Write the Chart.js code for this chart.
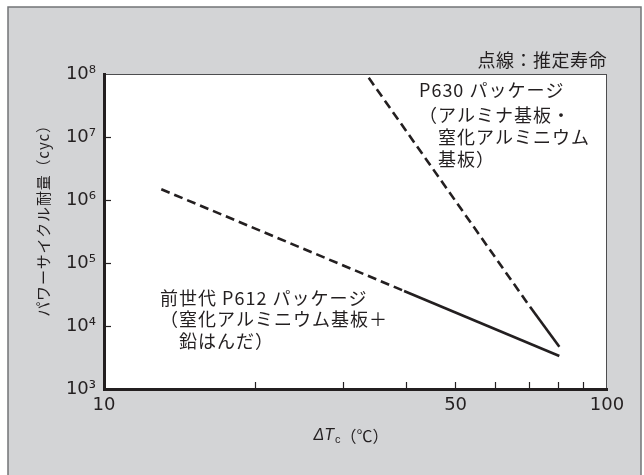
<!DOCTYPE html>
<html>
<head>
<meta charset="utf-8">
<script src="https://cdn.jsdelivr.net/npm/chart.js@4.4.1/dist/chart.umd.min.js"></script>
<style>
  html, body { margin: 0; padding: 0; background: #ffffff; }
  canvas { display: block; }
</style>
</head>
<body>
<canvas id="c" width="644" height="475"></canvas>
<script>
// ---- data ----
const p612DeltaTc = [13.0, 39.5, 80.4];
const p612Cycles  = [1.48e6, 3.6e4, 3.34e3];
const p630DeltaTc = [33.6, 70.3, 80.4];
const p630Cycles  = [8.7e7, 2.02e4, 4.69e3];
// which segments are estimated (dashed): segment i joins point i and i+1
const p612Estimated = [true, false];
const p630Estimated = [true, false];

const xTickValues = [10, 20, 30, 40, 50, 60, 70, 80, 90, 100];
const xTickLabeled = [10, 50, 100];
const yTickValues = [1e3, 1e4, 1e5, 1e6, 1e7, 1e8];
const yTickLabels = ['10³', '10⁴', '10⁵', '10⁶', '10⁷', '10⁸'];

const noteText = '点線：推定寿命';
const p630Label = ['P630 パッケージ', '（アルミナ基板・', '　窒化アルミニウム', '　基板）'];
const p612Label = ['前世代 P612 パッケージ', '（窒化アルミニウム基板＋', '　鉛はんだ）'];
const yTitle = 'パワーサイクル耐量（cyc）';
const xTitleParts = ['ΔT', 'c', '（℃）'];

// ---- drawing ----
const INK = '#231f20';
const JP = '"Noto Sans CJK JP", "Noto Sans", sans-serif';

function toPoints(xs, ys) { return xs.map((x, i) => ({ x: x, y: ys[i] })); }
function dashFor(flags) {
  return ctx => (flags[ctx.p0DataIndex] ? [9, 5] : undefined);
}
function hideEnds(ctx) {
  const n = ctx.scale && ctx.scale.ticks ? ctx.scale.ticks.length : 0;
  return (ctx.index === 0 || ctx.index === n - 1) ? 'rgba(0,0,0,0)' : INK;
}

const decor = {
  id: 'decor',
  beforeDraw(chart) {
    const c = chart.ctx, a = chart.chartArea;
    c.save();
    c.fillStyle = '#ffffff';
    c.fillRect(0, 0, chart.width, chart.height);
    c.fillStyle = '#d3d4d6';
    c.fillRect(8, 7, 633, 480);
    c.strokeStyle = '#737477';
    c.lineWidth = 1.5;
    c.strokeRect(8, 7, 633, 480);
    c.fillStyle = '#ffffff';
    c.fillRect(a.left, a.top, a.right - a.left, a.bottom - a.top);
    c.strokeStyle = '#4d4d4f';
    c.lineWidth = 1;
    c.strokeRect(a.left, a.top + 0.5, a.right - a.left - 0.5, a.bottom - a.top);
    c.restore();
  },
  afterDraw(chart) {
    const c = chart.ctx;
    c.save();
    c.fillStyle = INK;
    c.textBaseline = 'middle';
    c.font = '18px ' + JP;
    c.letterSpacing = '0.5px';
    c.textAlign = 'right';
    c.fillText(noteText, 607, 60);
    c.textAlign = 'left';
    c.letterSpacing = '1px';
    const y630 = [90, 115, 137, 159];
    p630Label.forEach((t, i) => c.fillText(t, 419, y630[i]));
    const y612 = [298, 319, 341];
    p612Label.forEach((t, i) => c.fillText(t, 160, y612[i]));

    // y title
    c.save();
    c.translate(43, 217);
    c.rotate(-Math.PI / 2);
    c.textAlign = 'center';
    c.font = '15px ' + JP;
    c.letterSpacing = '0.8px';
    c.fillText(yTitle, 0, 0);
    c.restore();

    // x title
    c.letterSpacing = '0px';
    const f1 = 'italic 16px "Liberation Sans", sans-serif';
    const f2 = '11px "Liberation Sans", sans-serif';
    const f3 = '16px ' + JP;
    c.font = f1; const w1 = c.measureText(xTitleParts[0]).width;
    c.font = f2; const w2 = c.measureText(xTitleParts[1]).width;
    c.font = f3; const w3 = c.measureText(xTitleParts[2]).width;
    let x = 351 - (w1 + w2 + 1 + w3) / 2;
    c.textAlign = 'left';
    c.font = f1; c.fillText(xTitleParts[0], x, 436); x += w1 + 1;
    c.font = f2; c.fillText(xTitleParts[1], x, 440); x += w2;
    c.font = f3; c.fillText(xTitleParts[2], x, 436);
    c.restore();
  }
};

new Chart(document.getElementById('c'), {
  type: 'line',
  data: {
    datasets: [
      {
        label: 'P612',
        data: toPoints(p612DeltaTc, p612Cycles),
        borderColor: INK, borderWidth: 2.6, pointRadius: 0, tension: 0,
        borderCapStyle: 'butt',
        segment: { borderDash: dashFor(p612Estimated) }
      },
      {
        label: 'P630',
        data: toPoints(p630DeltaTc, p630Cycles),
        borderColor: INK, borderWidth: 2.6, pointRadius: 0, tension: 0,
        borderCapStyle: 'butt',
        segment: { borderDash: dashFor(p630Estimated) }
      }
    ]
  },
  options: {
    responsive: false,
    animation: false,
    devicePixelRatio: 1,
    layout: { padding: { top: 74, right: 37, left: 0, bottom: 0 } },
    plugins: { legend: { display: false }, tooltip: { enabled: false }, title: { display: false } },
    scales: {
      x: {
        type: 'logarithmic', min: 10, max: 100, position: 'bottom',
        afterBuildTicks: s => { s.ticks = xTickValues.map(v => ({ value: v })); },
        afterFit: s => { s.height = 86; },
        ticks: {
          autoSkip: false, maxRotation: 0, minRotation: 0, padding: 13,
          color: INK, font: { family: '"DejaVu Sans"', size: 18 },
          callback: v => (xTickLabeled.includes(v) ? String(v) : '')
        },
        grid: { drawOnChartArea: false, drawTicks: true, tickLength: -7,
                color: hideEnds, tickColor: hideEnds, tickWidth: 1.2 },
        border: { display: true, color: INK, width: 3 }
      },
      y: {
        type: 'logarithmic', min: 1e3, max: 1e8, position: 'left',
        afterBuildTicks: s => { s.ticks = yTickValues.map(v => ({ value: v })); },
        afterFit: s => { s.width = 104; },
        ticks: {
          autoSkip: false, padding: 15,
          color: INK, font: { family: '"DejaVu Sans"', size: 18 },
          callback: v => { const i = yTickValues.indexOf(v); return i >= 0 ? yTickLabels[i] : ''; }
        },
        grid: { drawOnChartArea: false, drawTicks: true, tickLength: -7,
                color: hideEnds, tickColor: hideEnds, tickWidth: 1.2 },
        border: { display: true, color: INK, width: 3 }
      }
    }
  },
  plugins: [decor]
});
</script>
</body>
</html>
